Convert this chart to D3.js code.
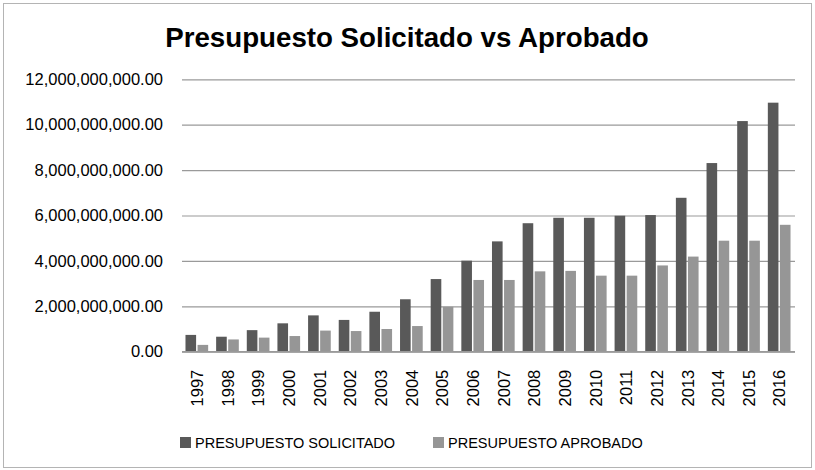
<!DOCTYPE html>
<html>
<head>
<meta charset="utf-8">
<script src="https://cdn.jsdelivr.net/npm/d3@7"></script>
<style>
  body { margin: 0; background: #fff; }
  text { font-family: "Liberation Sans", Arial, sans-serif; fill: #000; }
</style>
</head>
<body>
<svg></svg>
<script>
var years = ["1997","1998","1999","2000","2001","2002","2003","2004","2005","2006",
             "2007","2008","2009","2010","2011","2012","2013","2014","2015","2016"];
var solicitado = [0.74e9, 0.66e9, 0.95e9, 1.25e9, 1.60e9, 1.40e9, 1.76e9, 2.31e9, 3.20e9, 4.01e9,
                  4.86e9, 5.66e9, 5.90e9, 5.90e9, 5.99e9, 6.02e9, 6.78e9, 8.31e9, 10.16e9, 10.97e9];
var aprobado = [0.30e9, 0.54e9, 0.62e9, 0.69e9, 0.93e9, 0.91e9, 1.00e9, 1.13e9, 1.98e9, 3.16e9,
                3.16e9, 3.54e9, 3.56e9, 3.35e9, 3.35e9, 3.80e9, 4.19e9, 4.89e9, 4.89e9, 5.59e9];
var seriesNames = ["PRESUPUESTO SOLICITADO", "PRESUPUESTO APROBADO"];
var yTicks = [0, 2e9, 4e9, 6e9, 8e9, 10e9, 12e9];

var width = 815;
var height = 470;
var plotLeft = 182, plotRight = 795, plotTop = 79.3, plotBottom = 351.7;
var colors = ["#595959", "#969696"];

var data = years.map((y, i) => ({year: y, values: [solicitado[i], aprobado[i]]}));

var svg = d3.select("svg")
    .attr("width", width)
    .attr("height", height);

// chart border
svg.append("rect")
    .attr("x", 3.5)
    .attr("y", 3.5)
    .attr("width", 808)
    .attr("height", 464)
    .attr("fill", "#fff")
    .attr("stroke", "#b4b4b4");

var xScale = d3.scaleBand()
    .domain(years)
    .range([plotLeft, plotRight]);

var groupWidth = xScale.bandwidth() * 0.74;
var x1 = d3.scaleBand()
    .domain([0, 1])
    .range([0, groupWidth])
    .paddingInner(0.12);

var yScale = d3.scaleLinear()
    .domain([0, 12e9])
    .range([plotBottom, plotTop]);

var fmt = d3.format(",.2f");

var yAxis = d3.axisLeft(yScale)
    .tickValues(yTicks)
    .tickSize(-(plotRight - plotLeft))
    .tickFormat(fmt);

svg.append("g")
    .classed("y-axis", true)
    .attr("transform", `translate(${plotLeft},0)`)
    .call(yAxis)
    .call(g => g.select(".domain").remove())
    .call(g => g.selectAll("line").attr("stroke", "#9a9a9a").attr("stroke-width", 1.2))
    .call(g => g.selectAll("text")
        .attr("x", -19)
        .style("font-size", "16.5px")
        .attr("fill", "#000"));

var groups = svg.selectAll(".grp")
    .data(data)
    .enter()
    .append("g")
    .attr("class", "grp")
    .attr("transform", d => `translate(${xScale(d.year) + (xScale.bandwidth() - groupWidth) / 2 - 0.5},0)`);

groups.selectAll("rect")
    .data(d => d.values.map((v, i) => ({i: i, v: v})))
    .enter()
    .append("rect")
    .attr("x", d => x1(d.i))
    .attr("y", d => yScale(d.v))
    .attr("width", x1.bandwidth())
    .attr("height", d => plotBottom - yScale(d.v))
    .attr("fill", d => colors[d.i]);

// baseline
svg.append("line")
    .attr("x1", plotLeft)
    .attr("x2", plotRight)
    .attr("y1", plotBottom)
    .attr("y2", plotBottom)
    .attr("stroke", "#9a9a9a")
    .attr("stroke-width", 1.5);

var xAxis = d3.axisBottom(xScale).tickSize(0);

svg.append("g")
    .classed("x-axis", true)
    .attr("transform", `translate(0,${plotBottom})`)
    .call(xAxis)
    .call(g => g.select(".domain").remove())
    .call(g => g.selectAll("text")
        .attr("transform", "rotate(-90)")
        .attr("x", -18)
        .attr("y", 0)
        .attr("dy", "0.35em")
        .style("text-anchor", "end")
        .style("font-size", "16.5px")
        .attr("fill", "#000"));

svg.append("text")
    .attr("x", 407)
    .attr("y", 46.5)
    .style("text-anchor", "middle")
    .style("font-size", "27.7px")
    .style("font-weight", "bold")
    .text("Presupuesto Solicitado vs Aprobado");

var legendX = [180, 433];
var legend = svg.selectAll(".legend")
    .data(seriesNames)
    .enter()
    .append("g")
    .attr("class", "legend")
    .attr("transform", (d, i) => `translate(${legendX[i]},437)`);

legend.append("rect")
    .attr("width", 11)
    .attr("height", 11)
    .attr("fill", (d, i) => colors[i]);

legend.append("text")
    .attr("x", 15)
    .attr("y", 5.5)
    .attr("dy", "0.36em")
    .style("font-size", "14.5px")
    .text(d => d);
</script>
</body>
</html>
